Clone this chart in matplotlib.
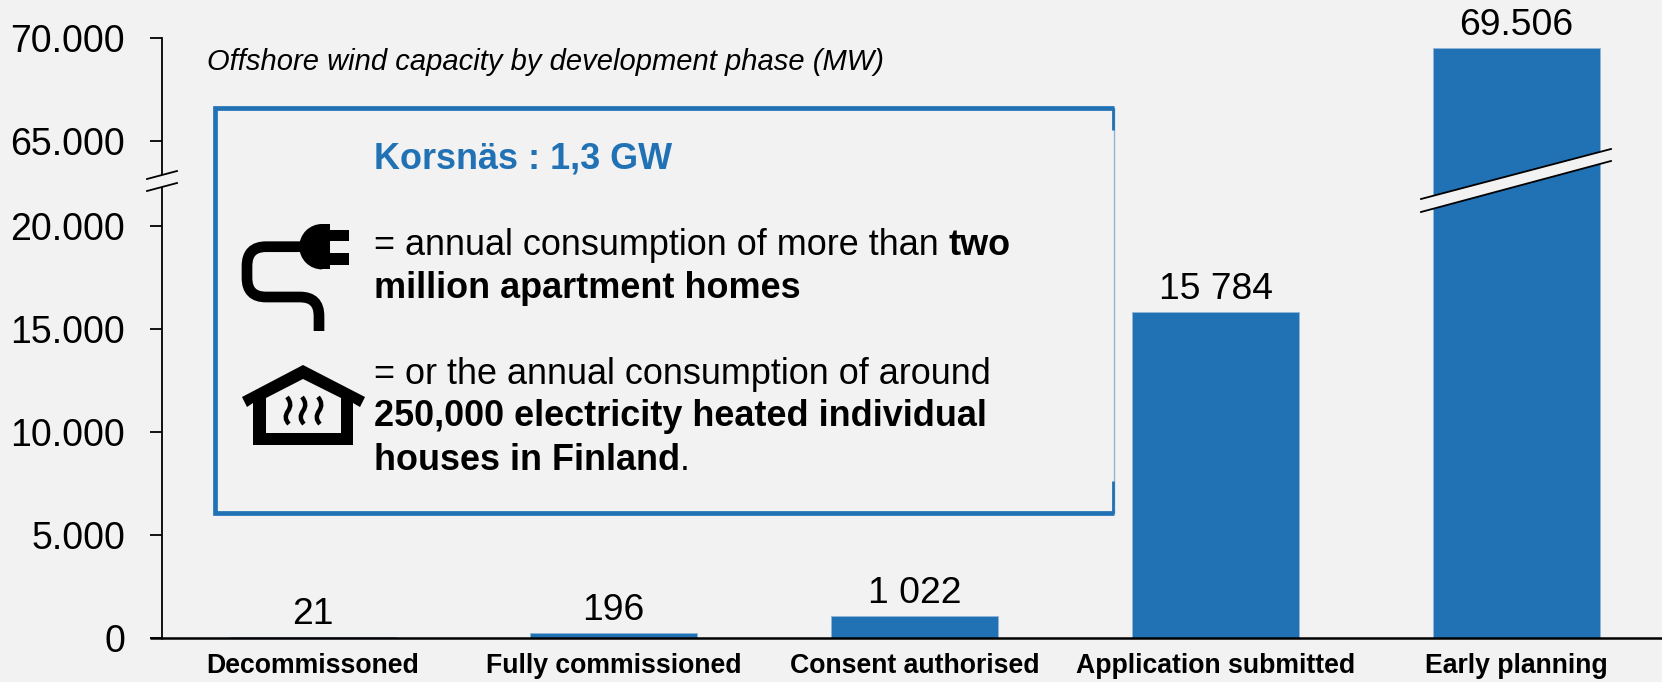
import numpy as np
import matplotlib
matplotlib.use('Agg')
import matplotlib.pyplot as plt
from matplotlib.patches import PathPatch, Polygon, Rectangle, Wedge
from matplotlib.path import Path

plt.rcParams['font.family'] = ['Liberation Sans', 'DejaVu Sans']

categories = ['Decommissoned', 'Fully commissioned', 'Consent authorised',
              'Application submitted', 'Early planning']
capacity = [21, 196, 1022, 15784, 69506]
value_labels = ['21', '196', '1 022', '15 784', '69.506']
y_ticks = [0, 5000, 10000, 15000, 20000, 65000, 70000]
y_tick_labels = ['0', '5.000', '10.000', '15.000', '20.000', '65.000', '70.000']

BG = '#F2F2F2'
BLUE = '#2171B5'
W, H = 1662, 682

# the y axis jumps from about 22.000 to about 63.000
BREAK = 22000
JUMP = 40898


def forward(y):
    y = np.asarray(y, dtype=float)
    return np.where(y < BREAK, y, np.where(y < BREAK + JUMP, BREAK, y - JUMP))


def inverse(y):
    y = np.asarray(y, dtype=float)
    return np.where(y < BREAK, y, y + JUMP)


fig = plt.figure(figsize=(W / 100, H / 100), dpi=100, facecolor=BG)
ax = fig.add_axes([162 / W, 1 - 637.5 / H, 1500 / W, 599.5 / H], facecolor=BG)

ax.bar(range(len(capacity)), capacity, width=0.555, color=BLUE, edgecolor='#8FB5D8', linewidth=0.6, zorder=2)
ax.set_yscale('function', functions=(forward, inverse))
ax.set_ylim(0, 70000)
ax.set_xlim(-0.5, 4.483)

for i, (v, lab) in enumerate(zip(capacity, value_labels)):
    ax.annotate(lab, (i, v), xytext=(0, 9.4), textcoords='offset points',
                ha='center', va='baseline', fontsize=26.8, color='black')

ax.set_yticks(y_ticks)
ax.set_yticklabels(y_tick_labels, fontsize=27)
ax.minorticks_off()
ax.tick_params(axis='y', length=8.6, width=1.3, pad=18)
ax.set_xticks(range(len(categories)))
ax.set_xticklabels(categories, fontsize=19.2, fontweight='bold')
ax.tick_params(axis='x', length=0, pad=11.5)
for s in ['top', 'right']:
    ax.spines[s].set_visible(False)
ax.spines['left'].set_linewidth(1.3)
ax.spines['bottom'].set_linewidth(1.8)

# overlay in picture pixels for the break marks, text box and icons
ov = fig.add_axes([0, 0, 1, 1], facecolor='none')
ov.set_xlim(0, W)
ov.set_ylim(H, 0)
ov.axis('off')

# baseline sticks out left of the axis
ov.plot([150, 162], [637.5, 637.5], color='black', lw=1.8, solid_capstyle='butt')

# axis break
ov.add_patch(Polygon([(147, 179), (177, 171), (177, 183), (147, 191)], fc=BG, ec='none'))
ov.plot([147, 177], [179, 171], color='black', lw=1.3)
ov.plot([147, 177], [191, 183], color='black', lw=1.3)

# bar break
ov.add_patch(Polygon([(1421, 199), (1611, 149), (1611, 161), (1421, 212)], fc=BG, ec='none'))
ov.plot([1421, 1611], [199, 149], color='black', lw=1.3)
ov.plot([1421, 1611], [212, 161], color='black', lw=1.3)

ov.text(207, 62, 'Offshore wind capacity by development phase (MW)', fontsize=21,
        style='italic', va='center', ha='left')

# text box, right side is only thick at both ends
box_l, box_t, box_r, box_b = 215, 108, 1114, 513
ov.plot([box_r, box_r], [box_t, box_b], color='#8FB5D8', lw=1)
ov.plot([box_r - 1, box_r - 1], [box_t, 130], color=BLUE, lw=2, solid_capstyle='butt')
ov.plot([box_r - 1, box_r - 1], [481, box_b], color=BLUE, lw=2, solid_capstyle='butt')
ov.plot([box_r, box_l, box_l, box_r], [box_t, box_t, box_b, box_b], color=BLUE, lw=3.4,
        solid_joinstyle='miter', solid_capstyle='butt')

ov.text(374, 159, 'Korsnäs : 1,3 GW', fontsize=25.9, fontweight='bold', color=BLUE, va='center', ha='left')

BODY = 25.9
t = ov.text(374, 255, '= annual consumption of more than ', fontsize=BODY, va='baseline', ha='left')
ov.annotate('two', xy=(1, 0), xycoords=t, fontsize=BODY, fontweight='bold', va='bottom', ha='left')
ov.text(374, 298, 'million apartment homes', fontsize=BODY, fontweight='bold', va='baseline', ha='left')
ov.text(374, 384, '= or the annual consumption of around', fontsize=BODY, va='baseline', ha='left')
ov.text(374, 426, '250,000 electricity heated individual', fontsize=BODY, fontweight='bold', va='baseline', ha='left')
t = ov.text(374, 470, 'houses in Finland', fontsize=BODY, fontweight='bold', va='baseline', ha='left')
ov.annotate('.', xy=(1, 0), xycoords=t, fontsize=BODY, va='bottom', ha='left')

# plug icon
M, L, C = Path.MOVETO, Path.LINETO, Path.CURVE3
cable = Path([(300, 246.7), (266, 246.7), (247, 246.7), (247, 266), (247, 278), (247, 297), (266, 297),
              (300, 297), (319, 297), (319, 316), (319, 331)],
             [M, L, C, C, L, C, C, L, C, C, L])
ov.add_patch(PathPatch(cable, fc='none', ec='black', lw=7.7, capstyle='butt'))
ov.add_patch(Wedge((322, 246.7), 22.7, 90, 270, fc='black', ec='none'))
ov.add_patch(Rectangle((322, 224), 8, 45.4, fc='black', ec='none'))
ov.add_patch(Rectangle((330, 229.5), 19, 11.5, fc='black', ec='none'))
ov.add_patch(Rectangle((330, 253), 19, 11.5, fc='black', ec='none'))

# house icon
ov.add_patch(Polygon([(303, 365), (365, 397), (360, 407), (353, 403), (353, 445), (253, 445), (253, 403),
                      (247, 407), (242, 397)], fc='black', ec='none'))
ov.add_patch(Polygon([(303, 379), (341, 398), (341, 433), (266, 433), (266, 398)], fc=BG, ec='none'))
for x0 in [288, 303, 319]:
    wave = Path([(x0 - 1, 397), (x0 + 5, 404), (x0, 411), (x0 - 5, 418), (x0 + 1, 424)],
                [M, C, C, C, C])
    ov.add_patch(PathPatch(wave, fc='none', ec='black', lw=3.2, capstyle='butt'))

plt.savefig('out.png', dpi=100, facecolor=BG)
